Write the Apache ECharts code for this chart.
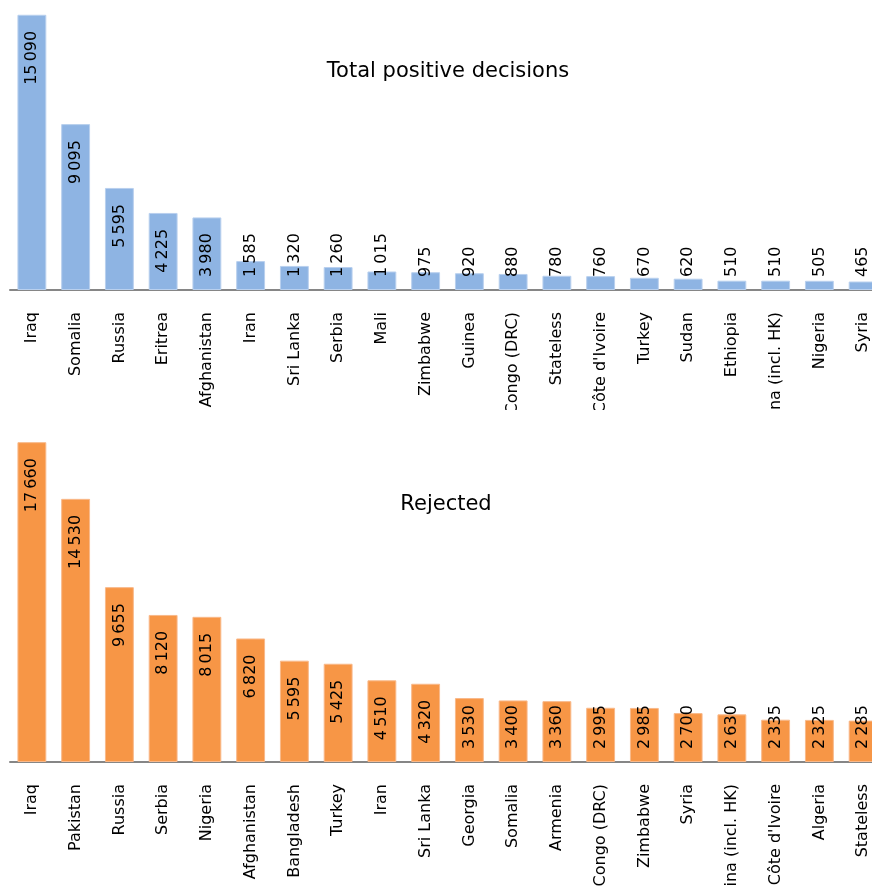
<!DOCTYPE html>
<html>
<head>
<meta charset="utf-8">
<script src="https://cdn.jsdelivr.net/npm/echarts@6/dist/echarts.min.js"></script>
<style>
html,body{margin:0;padding:0;background:#fff;}
#top{position:absolute;left:0;top:0;width:872px;height:410px;}
#bot{position:absolute;left:0;top:410px;width:872px;height:476px;}
</style>
</head>
<body>
<div id="top"></div>
<div id="bot"></div>
<script>
const positiveCategories = ['Iraq','Somalia','Russia','Eritrea','Afghanistan','Iran','Sri Lanka','Serbia','Mali','Zimbabwe','Guinea','Congo (DRC)','Stateless',"Côte d'Ivoire",'Turkey','Sudan','Ethiopia','China (incl. HK)','Nigeria','Syria'];
const positiveValues = [15090,9095,5595,4225,3980,1585,1320,1260,1015,975,920,880,780,760,670,620,510,510,505,465];
const rejectedCategories = ['Iraq','Pakistan','Russia','Serbia','Nigeria','Afghanistan','Bangladesh','Turkey','Iran','Sri Lanka','Georgia','Somalia','Armenia','Congo (DRC)','Zimbabwe','Syria','China (incl. HK)',"Côte d'Ivoire",'Algeria','Stateless'];
const rejectedValues = [17660,14530,9655,8120,8015,6820,5595,5425,4510,4320,3530,3400,3360,2995,2985,2700,2630,2335,2325,2285];
const titles = ['Total positive decisions','Rejected'];

const FONT = 'DejaVu Sans';
function fmt(v){
  const s = String(v);
  return s.length > 3 ? s.slice(0, s.length-3) + '\u2009' + s.slice(s.length-3) : s;
}
function makeOption(cats, vals, title, color, border, gridTop, gridH, max, titleX, titleY){
  return {
    animation:false,
    graphic:[{type:'text', x:titleX, y:titleY, style:{text:title, font:'21px "'+FONT+'"', fill:'#000', textAlign:'center', textVerticalAlign:'middle'}}],
    grid:{left:10, width:875, top:gridTop, height:gridH, containLabel:false, outerBoundsMode:'none'},
    xAxis:{type:'category', data:cats,
      axisLine:{lineStyle:{color:'#868686', width:2}},
      axisTick:{show:false},
      axisLabel:{rotate:90, margin:22, interval:0, fontFamily:FONT, fontSize:16, color:'#000'}},
    yAxis:{type:'value', min:0, max:max, show:false, splitLine:{show:false}},
    series:[{type:'bar', data:vals, barCategoryGap:'34%',
      itemStyle:{color:color, borderColor:border, borderWidth:1},
      label:{show:true, position:'insideTop', distance:16, rotate:90, align:'right', verticalAlign:'middle',
        fontFamily:FONT, fontSize:16, color:'#000', formatter:p=>fmt(p.value)},
      labelLayout:function(p){
        const r = p.rect, lr = p.labelRect;
        const bottom = r.y + r.height;
        if (r.y + 16 + lr.height > bottom - 13) {
          return {y: bottom - 13 - lr.height};
        }
        return {};
      }
    }]
  };
}
const c1 = echarts.init(document.getElementById('top'), null, {renderer:'canvas'});
c1.setOption(makeOption(positiveCategories, positiveValues, titles[0], '#8EB4E3', '#B9D0EE', 0, 290, 15900, 448, 72));
const c2 = echarts.init(document.getElementById('bot'), null, {renderer:'canvas'});
c2.setOption(makeOption(rejectedCategories, rejectedValues, titles[1], '#F79646', '#F9B98A', 26, 326, 18000, 446, 95));
</script>
</body>
</html>
